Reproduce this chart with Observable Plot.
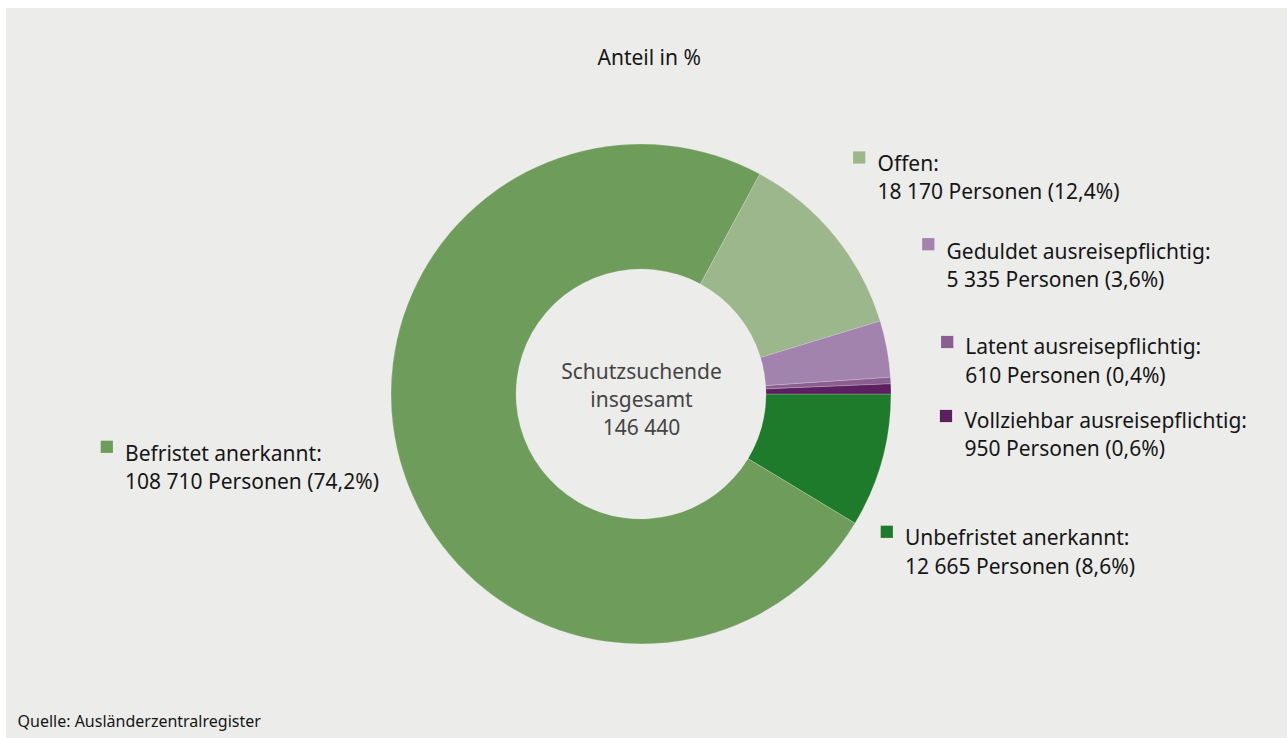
<!DOCTYPE html>
<html><head><meta charset="utf-8">
<script src="https://cdn.jsdelivr.net/npm/d3@7"></script>
<script src="https://cdn.jsdelivr.net/npm/@observablehq/plot@0.6"></script>
<style>
html,body{margin:0;padding:0;background:#ffffff;}
#box{position:absolute;left:6px;top:8px;width:1281px;height:730px;background:#ececea;overflow:hidden;}
#box svg{display:block;}
</style></head><body><div id="box"></div>
<script>
// ---- data ----
const categories = ["Unbefristet anerkannt", "Befristet anerkannt", "Offen", "Geduldet ausreisepflichtig", "Latent ausreisepflichtig", "Vollziehbar ausreisepflichtig"];
const persons = [12665, 108710, 18170, 5335, 610, 950];
const shares = ["8,6", "74,2", "12,4", "3,6", "0,4", "0,6"];
const total = 146440;
const title = "Anteil in %";
const centerLabel = "Schutzsuchende\ninsgesamt";
const source = "Quelle: Ausländerzentralregister";

// ---- style / layout ----
const colors = ["#1f7b2c", "#6d9c5b", "#9bb78b", "#a283ad", "#8b5e91", "#5c1f5f"];
const bg = "#ececea";
const W = 1281, H = 730, OX = 6, OY = 8;
const center = [641 - OX, 394 - OY];
const outerR = 250, innerR = 125;
// label layout (image coordinates): text x, text middle y, square x, square y
const labelPos = [
  [904.5, 550.0, 886.3, 531.3],
  [124.5, 465.3, 106.3, 446.3],
  [877.0, 175.3, 858.7, 157.0],
  [946.0, 263.3, 927.8, 243.7],
  [964.7, 358.8, 946.7, 341.5],
  [964.0, 432.2, 945.5, 415.5]
];

const locale = d3.formatLocale({decimal: ",", thousands: "\u00a0", grouping: [3], currency: ["", " €"]});
const fmt = locale.format(",d");

const rows = categories.map((c, i) => ({
  category: c, persons: persons[i], share: shares[i],
  tx: labelPos[i][0] - OX, ty: labelPos[i][1] - OY,
  sx: labelPos[i][2] - OX, sy: labelPos[i][3] - OY
}));

const donut = (index, scales) => {
  const cx = scales.x(center[0]), cy = scales.y(center[1]);
  const ro = scales.x(center[0] + outerR) - cx;
  const ri = scales.x(center[0] + innerR) - cx;
  const arcs = d3.pie().sort(null).startAngle(Math.PI / 2).endAngle(Math.PI * 2.5)(persons);
  const arc = d3.arc().innerRadius(ri).outerRadius(ro);
  const g = d3.create("svg:g").attr("transform", `translate(${cx},${cy})`);
  g.selectAll("path").data(arcs).join("path")
    .attr("d", arc)
    .attr("fill", (d, i) => scales.color(categories[i]))
    .attr("stroke", bg).attr("stroke-width", 0.4).attr("stroke-opacity", 0.6);
  return g.node();
};

const font = "'Noto Sans', 'Open Sans', sans-serif";

const chart = Plot.plot({
  width: W, height: H, margin: 0,
  x: {domain: [0, W], range: [0, W], axis: null},
  y: {domain: [0, H], range: [0, H], axis: null},
  color: {type: "ordinal", domain: categories, range: colors},
  style: {background: "transparent", fontFamily: font},
  marks: [
    donut,
    Plot.dot(rows, {x: "sx", y: "sy", symbol: "square", r: 6.9, fill: "category", stroke: null}),
    Plot.text(rows, {
      x: "tx", y: "ty",
      text: d => `${d.category}:\n${fmt(d.persons)} Personen (${d.share}%)`,
      textAnchor: "start", lineAnchor: "middle", lineHeight: 1.36,
      fontSize: 21, fill: "#161616"
    }),
    Plot.text([`${centerLabel}\n${fmt(total)}`], {
      x: center[0], y: 397.7 - OY, text: d => d,
      textAnchor: "middle", lineAnchor: "middle", lineHeight: 1.34,
      fontSize: 21, fill: "#444444"
    }),
    Plot.text([title], {
      x: 648.7 - OX, y: 57.7 - OY, text: d => d,
      textAnchor: "middle", fontSize: 21, fill: "#161616"
    }),
    Plot.text([source], {
      x: 17 - OX, y: 721.5 - OY, text: d => d,
      textAnchor: "start", fontSize: 16, fill: "#161616"
    })
  ]
});
document.getElementById("box").appendChild(chart);
</script>
</body></html>
